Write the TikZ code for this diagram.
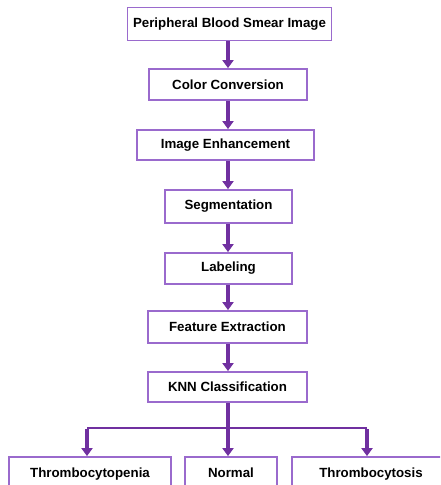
\documentclass[tikz,border=0pt]{standalone}
\usepackage{fontspec}
\setmainfont{Liberation Sans}
\usetikzlibrary{arrows.meta}
\definecolor{arr}{HTML}{7030A0}
\definecolor{bdr}{HTML}{9A6ACD}
\begin{document}
\begin{tikzpicture}[x=1pt,y=-1pt,
  box/.style={draw=bdr, line width=1.8pt, fill=white, inner sep=0pt,
    font=\bfseries\fontsize{13.3}{15}\selectfont},
  arrowline/.style={draw=arr, line width=3.2pt, -{Triangle[length=8pt,width=11pt]}},
  splitline/.style={draw=arr, line width=2.2pt}]
\useasboundingbox (0,0) rectangle (440,485);
\clip (0,0) rectangle (440,485);
\node[box, minimum width=204pt, minimum height=33pt] (b1) at (229.5,24) {Peripheral Blood Smear Image};
\node[box, minimum width=158pt, minimum height=31pt] (b2) at (228,84.5) {Color Conversion};
\node[box, minimum width=177pt, minimum height=30pt] (b3) at (225.5,145) {Image Enhancement};
\node[box, minimum width=127pt, minimum height=33pt] (b4) at (228.5,206.5) {Segmentation};
\node[box, minimum width=127pt, minimum height=31pt] (b5) at (228.5,268.5) {Labeling};
\node[box, minimum width=159pt, minimum height=32pt] (b6) at (227.5,327) {Feature Extraction};
\node[box, minimum width=159pt, minimum height=30pt] (b7) at (227.5,387) {KNN Classification};
\node[box, minimum width=162pt, minimum height=34pt] (c1) at (90,474) {Thrombocytopenia};
\node[box, minimum width=92pt, minimum height=34pt] (c2) at (231,474) {\raisebox{3pt}{Normal}};
\node[box, minimum width=158pt, minimum height=34pt] (c3) at (371,474) {Thrombocytosis};
\coordinate (m) at (228,428);
\coordinate (l) at (87,428);
\coordinate (r) at (367,428);
\foreach \a/\b in {b1/b2,b2/b3,b3/b4,b4/b5,b5/b6,b6/b7}
  \draw[arrowline] (\a.south -| m) -- (\b.north -| m);
\draw[arrowline] (b7.south -| m) -- (c2.north -| m);
\draw[splitline] (l) -- (r);
\draw[arrowline] ([yshift=-1pt]l) -- (c1.north -| l);
\draw[arrowline] ([yshift=-1pt]r) -- (c3.north -| r);
\end{tikzpicture}
\end{document}
